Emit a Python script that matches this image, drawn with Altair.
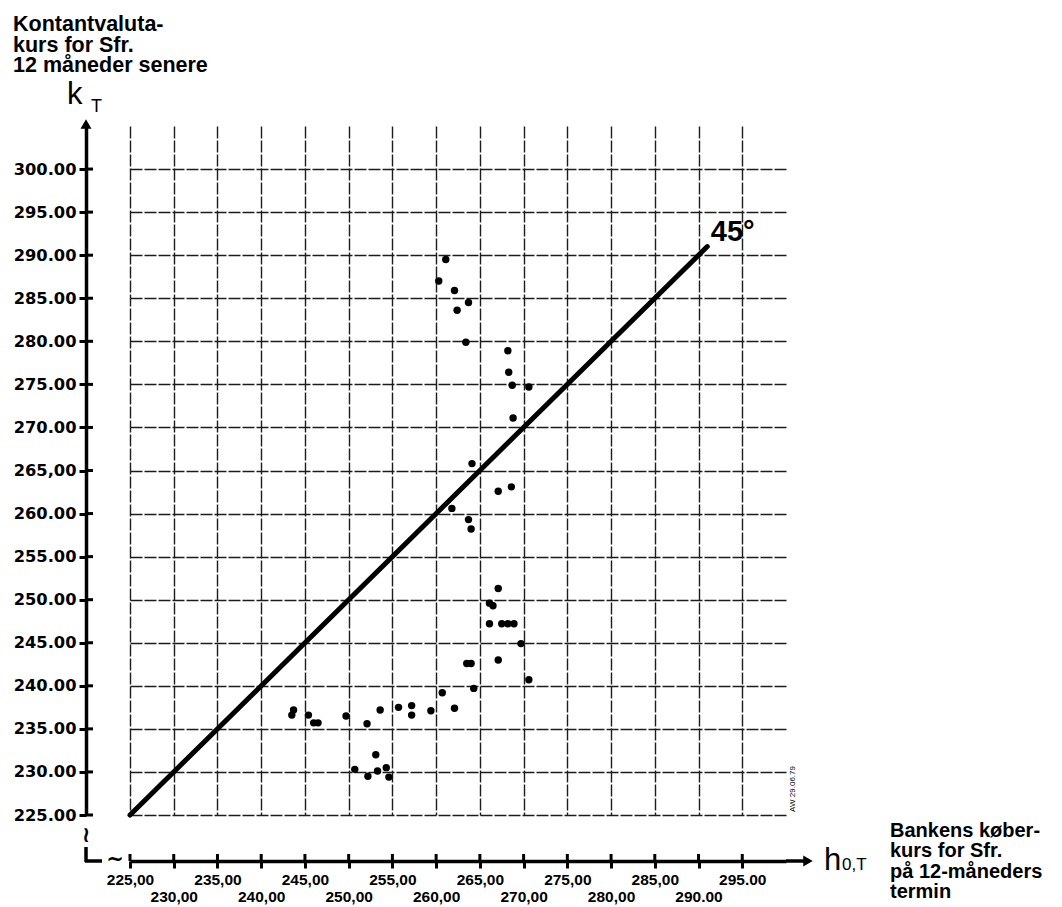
import altair as alt
import pandas as pd

# ---- data ----
h_vals = [261.1, 260.3, 262.1, 263.7, 262.4, 263.4, 268.2, 268.3, 268.7, 270.6,
          268.8, 264.1, 267.1, 268.6, 261.8, 263.7, 264.0, 267.1, 266.1, 266.5,
          266.1, 267.5, 268.2, 268.9, 269.7, 263.5, 264.0, 267.1, 270.6, 264.3,
          260.7, 243.7, 243.5, 245.4, 246.0, 246.5, 249.7, 252.1, 253.6, 255.7,
          257.2, 257.2, 259.4, 262.1, 250.7, 252.2, 253.1, 253.3, 254.3, 254.6]
k_vals = [289.5, 287.0, 285.9, 284.5, 283.6, 279.9, 278.9, 276.4, 274.9, 274.7,
          271.1, 265.8, 262.6, 263.1, 260.6, 259.3, 258.2, 251.3, 249.6, 249.3,
          247.2, 247.2, 247.2, 247.2, 244.9, 242.6, 242.6, 243.0, 240.7, 239.7,
          239.2, 237.2, 236.6, 236.6, 235.7, 235.7, 236.5, 235.6, 237.2, 237.5,
          237.7, 236.6, 237.1, 237.4, 230.3, 229.5, 232.0, 230.1, 230.5, 229.4]

x_ticks = [225, 230, 235, 240, 245, 250, 255, 260, 265, 270, 275, 280, 285, 290, 295]
x_tick_labels = ["225,00", "230,00", "235,00", "240,00", "245,00", "250,00", "255,00",
                 "260,00", "265,00", "270,00", "275,00", "280,00", "285,00", "290.00", "295.00"]
y_ticks = [225, 230, 235, 240, 245, 250, 255, 260, 265, 270, 275, 280, 285, 290, 295, 300]
y_tick_labels = ["225.00", "230.00", "235.00", "240.00", "245.00", "250.00", "255.00", "260.00",
                 "265,00", "270.00", "275.00", "280.00", "285.00", "290.00", "295.00", "300.00"]

line_h = [225, 291]
line_k = [225, 291]

y_title = ["Kontantvaluta-", "kurs for Sfr.", "12 måneder senere"]
x_title = ["Bankens køber-", "kurs for Sfr.", "på 12-måneders", "termin"]

# ---- layout ----
W, H = 656, 689
YOFF, XOFF = 44, 46
XS = alt.Scale(domain=[225, 300], nice=False, zero=False)
YS = alt.Scale(domain=[225, 305], nice=False, zero=False)

xlab_arr = "[" + ",".join("'%s'" % s for s in x_tick_labels) + "]"
ylab_arr = "[" + ",".join("'%s'" % s for s in y_tick_labels) + "]"
xidx = "round((datum.value-225)/5)"
x_label_expr = f"({xidx} % 2 == 1) ? ['', {xlab_arr}[{xidx}]] : {xlab_arr}[{xidx}]"
y_label_expr = f"{ylab_arr}[round((datum.value-225)/5)]"

pts = pd.DataFrame({"h": h_vals, "k": k_vals})

x_axis = alt.Axis(values=x_ticks, offset=XOFF, title=None, grid=True,
                  gridColor="#1c1c1c", gridWidth=1.4, gridDash=[12, 2],
                  labelExpr=x_label_expr, labelFont="Liberation Sans", labelFontWeight="bold",
                  labelFontSize=15.5, labelColor="black", labelLineHeight=17, labelPadding=4,
                  labelOverlap=False, labelFlush=False,
                  tickSize=7, tickWidth=3, tickColor="black",
                  domainColor="black", domainWidth=3.5)
y_axis = alt.Axis(values=y_ticks, offset=YOFF, title=None, grid=True,
                  gridColor="#1c1c1c", gridWidth=1.4, gridDash=[12, 2],
                  labelExpr=y_label_expr, labelFont="DejaVu Sans", labelFontWeight="bold",
                  labelFontSize=16.3, labelColor="black", labelPadding=3,
                  labelOverlap=False, labelFlush=False,
                  tickSize=7, tickWidth=3, tickColor="black",
                  domainColor="black", domainWidth=3.5)

points = alt.Chart(pts).mark_circle(size=55, color="black", opacity=1).encode(
    x=alt.X("h:Q", scale=XS, axis=x_axis),
    y=alt.Y("k:Q", scale=YS, axis=y_axis),
)

diag = alt.Chart(pd.DataFrame({"h": line_h, "k": line_k})).mark_line(
    color="black", strokeWidth=5, strokeCap="round").encode(
    x=alt.X("h:Q", scale=XS, axis=x_axis),
    y=alt.Y("k:Q", scale=YS, axis=y_axis),
)

deg = alt.Chart(pd.DataFrame({"h": [291.4], "k": [291.6]})).mark_text(
    text="45°", align="left", baseline="alphabetic",
    font="Liberation Sans", fontWeight="bold", fontSize=29, color="black").encode(
    x=alt.X("h:Q", scale=XS, axis=x_axis), y=alt.Y("k:Q", scale=YS, axis=y_axis))

# inner half of crossing ticks
ytk = alt.Chart(pd.DataFrame({"k": y_ticks})).mark_rule(color="black", strokeWidth=3).encode(
    y=alt.Y("k:Q", scale=YS, axis=y_axis), x=alt.value(-YOFF), x2=alt.value(-YOFF + 7))
xtk = alt.Chart(pd.DataFrame({"h": x_ticks})).mark_rule(color="black", strokeWidth=3).encode(
    x=alt.X("h:Q", scale=XS, axis=x_axis), y=alt.value(H + XOFF), y2=alt.value(H + XOFF - 7))

# axis arrows and breaks
arrow_y = alt.Chart().mark_point(shape="triangle-up", filled=True, size=120, color="black",
                                 opacity=1).encode(x=alt.value(-YOFF), y=alt.value(-2))
ext_x = alt.Chart().mark_rule(color="black", strokeWidth=3.5).encode(
    x=alt.value(W), x2=alt.value(W + 22), y=alt.value(H + XOFF))
arrow_x = alt.Chart().mark_point(shape="triangle-right", filled=True, size=120, color="black",
                                 opacity=1).encode(x=alt.value(W + 22), y=alt.value(H + XOFF))
brk_y = alt.Chart().mark_text(text="≀", fontSize=22, font="DejaVu Sans", fontWeight="bold",
                              color="black").encode(x=alt.value(-YOFF), y=alt.value(H + 20))
low_y = alt.Chart().mark_rule(color="black", strokeWidth=3.5).encode(
    x=alt.value(-YOFF), y=alt.value(H + 32), y2=alt.value(H + XOFF + 1))
low_x = alt.Chart().mark_rule(color="black", strokeWidth=3.5).encode(
    x=alt.value(-YOFF - 1), x2=alt.value(-28), y=alt.value(H + XOFF))
brk_x = alt.Chart().mark_text(text="~", fontSize=21, font="DejaVu Sans", fontWeight="bold",
                              baseline="middle", color="black").encode(
    x=alt.value(-15), y=alt.value(H + XOFF - 1))

# titles
ytitle = alt.Chart().mark_text(text=y_title, align="left", baseline="alphabetic",
                               font="Liberation Sans", fontWeight="bold", fontSize=21.5,
                               lineHeight=20.5, color="black").encode(
    x=alt.value(-117), y=alt.value(-95))
k_sym = alt.Chart().mark_text(text="k", align="left", baseline="alphabetic",
                              font="Liberation Sans", fontSize=31, color="black").encode(
    x=alt.value(-63), y=alt.value(-22))
k_sub = alt.Chart().mark_text(text="T", align="left", baseline="alphabetic",
                              font="Liberation Sans", fontSize=18, color="black").encode(
    x=alt.value(-39), y=alt.value(-14))
h_sym = alt.Chart().mark_text(text="h", align="left", baseline="alphabetic",
                              font="Liberation Sans", fontSize=31, color="black").encode(
    x=alt.value(694), y=alt.value(744))
h_sub = alt.Chart().mark_text(text="0,T", align="left", baseline="alphabetic",
                              font="Liberation Sans", fontSize=17, color="black").encode(
    x=alt.value(712), y=alt.value(744))
xtitle = alt.Chart().mark_text(text=x_title, align="left", baseline="alphabetic",
                               font="Liberation Sans", fontWeight="bold", fontSize=20,
                               lineHeight=20.3, color="black").encode(
    x=alt.value(760), y=alt.value(711))
stamp = alt.Chart().mark_text(text="AW  29.06.79", angle=270, align="left", baseline="middle",
                              font="Liberation Sans", fontSize=8, color="black").encode(
    x=alt.value(663), y=alt.value(686))

chart = alt.layer(
    points, diag, deg, ytk, xtk, arrow_y, ext_x, arrow_x, brk_y, low_y, low_x, brk_x,
    ytitle, k_sym, k_sub, h_sym, h_sub, xtitle, stamp
).properties(
    width=W, height=H,
    padding={"left": 130, "top": 126, "right": 276, "bottom": 92},
    autosize=alt.AutoSizeParams(type="none"),
    background="white",
).configure_view(stroke=None)

chart.save("out.html", embed_options={"renderer": "svg", "actions": False})
